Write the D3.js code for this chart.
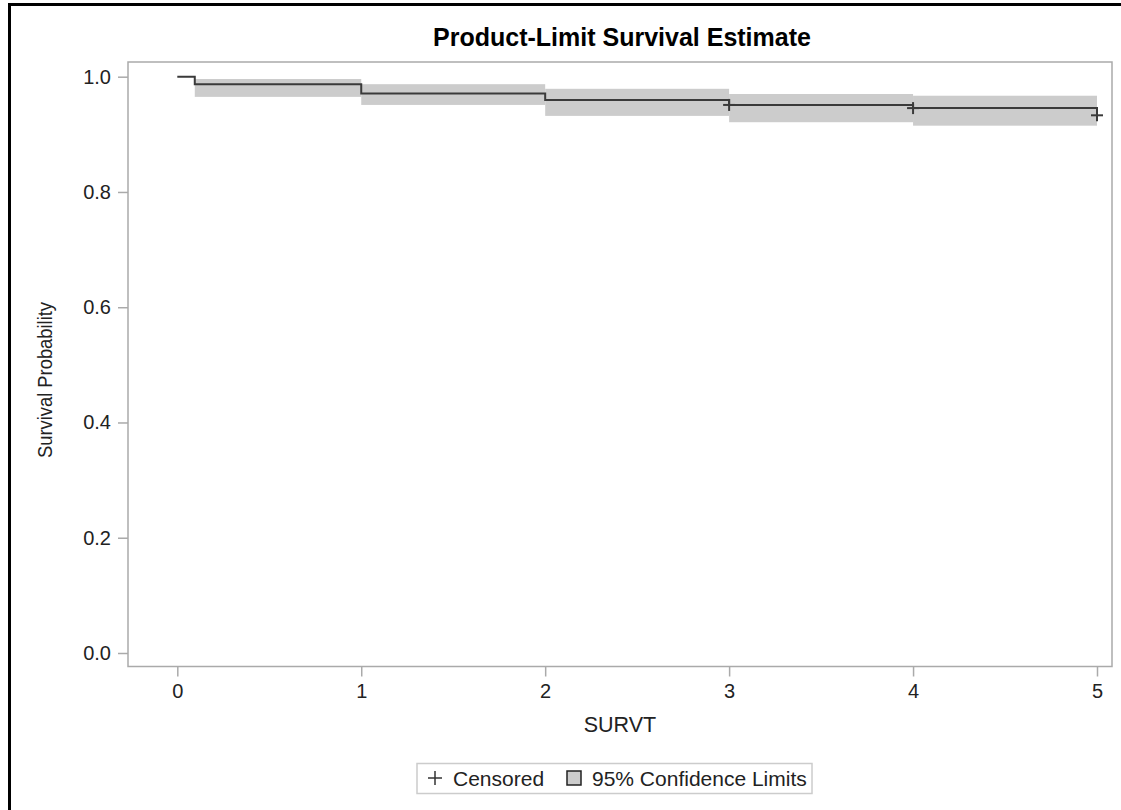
<!DOCTYPE html>
<html>
<head>
<meta charset="utf-8">
<script src="https://cdn.jsdelivr.net/npm/d3@7"></script>
<style>
  html, body { margin: 0; padding: 0; background: #fff; }
  svg text { font-family: "Liberation Sans", Arial, sans-serif; fill: #222; }
</style>
</head>
<body>
<svg id="chart" width="1121" height="810"></svg>
<script>
// ---- data ----
const stepTimes = [0, 0.095, 1, 2, 3, 4, 5];
const survival = [1.0, 0.987, 0.971, 0.9596, 0.951, 0.9455, 0.933];
const bandStart = [0.095, 1, 2, 3, 4];
const bandEnd = [1, 2, 3, 4, 5];
const bandLower = [0.965, 0.951, 0.932, 0.921, 0.915];
const bandUpper = [0.996, 0.987, 0.979, 0.970, 0.967];
const censorTimes = [3, 4, 5];
const censorSurv = [0.951, 0.9455, 0.933];
const xTicks = [0, 1, 2, 3, 4, 5];
const yTicks = [0.0, 0.2, 0.4, 0.6, 0.8, 1.0];
const titleText = "Product-Limit Survival Estimate";
const xLabel = "SURVT";
const yLabel = "Survival Probability";
const legendItems = ["Censored", "95% Confidence Limits"];

// ---- layout ----
const svg = d3.select("#chart");
const frame = { left: 128, top: 62, right: 1112, bottom: 666.5 };
const x = d3.scaleLinear().domain([0, 5]).range([177.3, 1097]);
const y = d3.scaleLinear().domain([0, 1]).range([653, 76.7]);

// outer border
svg.append("rect").attr("x", 9.5).attr("y", 4.5).attr("width", 1200).attr("height", 900)
  .attr("fill", "none").attr("stroke", "#000").attr("stroke-width", 3);

// title
svg.append("text").attr("x", 622).attr("y", 46).attr("text-anchor", "middle")
  .style("font-size", "25px").style("font-weight", "bold").style("fill", "#000").text(titleText);

// band
const bands = bandStart.map((s, i) => ({ s, e: bandEnd[i], lo: bandLower[i], hi: bandUpper[i] }));
svg.append("g").selectAll("rect").data(bands).join("rect")
  .attr("x", d => x(d.s)).attr("width", d => x(d.e) - x(d.s))
  .attr("y", d => y(d.hi)).attr("height", d => y(d.lo) - y(d.hi))
  .attr("fill", "#cccccc");

// step line
const pts = [];
for (let i = 0; i < stepTimes.length; i++) {
  pts.push([stepTimes[i], survival[i]]);
  if (i < stepTimes.length - 1) pts.push([stepTimes[i + 1], survival[i]]);
}
svg.append("path").datum(pts)
  .attr("d", d3.line().x(d => x(d[0])).y(d => y(d[1])))
  .attr("fill", "none").attr("stroke", "#3a3a3a").attr("stroke-width", 2);

// censored marks
const cens = censorTimes.map((t, i) => ({ t, s: censorSurv[i] }));
const cg = svg.append("g").selectAll("g").data(cens).join("g")
  .attr("transform", d => `translate(${x(d.t)},${y(d.s)})`);
cg.append("line").attr("x1", -6).attr("x2", 6).attr("stroke", "#3a3a3a").attr("stroke-width", 2);
cg.append("line").attr("y1", -6).attr("y2", 6).attr("stroke", "#3a3a3a").attr("stroke-width", 2);

// frame
svg.append("rect").attr("x", frame.left).attr("y", frame.top)
  .attr("width", frame.right - frame.left).attr("height", frame.bottom - frame.top)
  .attr("fill", "none").attr("stroke", "#aaaaaa").attr("stroke-width", 1.5);

// axes
const xAxis = d3.axisBottom(x).tickValues(xTicks).tickFormat(d3.format("d")).tickSize(10).tickPadding(7);
const gx = svg.append("g").attr("transform", `translate(0,${frame.bottom})`).call(xAxis);
const yAxis = d3.axisLeft(y).tickValues(yTicks).tickFormat(d3.format(".1f")).tickSize(10).tickPadding(7);
const gy = svg.append("g").attr("transform", `translate(${frame.left},0)`).call(yAxis);
[gx, gy].forEach(g => {
  g.select(".domain").remove();
  g.selectAll(".tick line").attr("stroke", "#aaaaaa").attr("stroke-width", 1.5);
  g.selectAll(".tick text").style("font-size", "20px").style("font-family", "Liberation Sans, Arial, sans-serif").attr("fill", "#222");
});

// axis labels
svg.append("text").attr("x", 620).attr("y", 732).attr("text-anchor", "middle")
  .style("font-size", "21.5px").text(xLabel);
svg.append("text").attr("transform", "translate(52,380) rotate(-90)").attr("text-anchor", "middle")
  .attr("textLength", 156).attr("lengthAdjust", "spacingAndGlyphs")
  .style("font-size", "20px").text(yLabel);

// legend
const lg = svg.append("g");
lg.append("rect").attr("x", 417).attr("y", 763.5).attr("width", 395).attr("height", 30)
  .attr("fill", "#fff").attr("stroke", "#cccccc").attr("stroke-width", 1.5);
lg.append("line").attr("x1", 428).attr("x2", 442).attr("y1", 778).attr("y2", 778).attr("stroke", "#333").attr("stroke-width", 1.5);
lg.append("line").attr("x1", 435).attr("x2", 435).attr("y1", 771).attr("y2", 785).attr("stroke", "#333").attr("stroke-width", 1.5);
lg.append("text").attr("x", 453).attr("y", 786).style("font-size", "21px").text(legendItems[0]);
lg.append("rect").attr("x", 567).attr("y", 771).attr("width", 14).attr("height", 14)
  .attr("fill", "#cccccc").attr("stroke", "#222").attr("stroke-width", 1.5);
lg.append("text").attr("x", 592).attr("y", 786).style("font-size", "21px").text(legendItems[1]);
</script>
</body>
</html>
